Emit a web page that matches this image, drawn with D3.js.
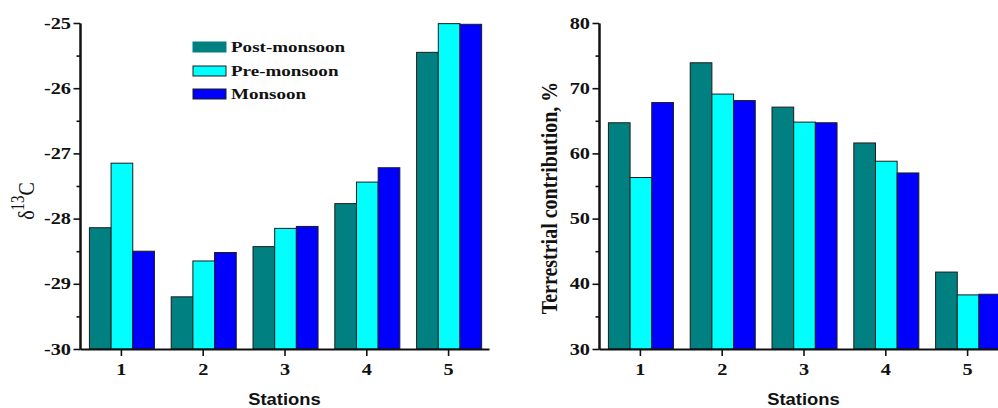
<!DOCTYPE html>
<html>
<head>
<meta charset="utf-8">
<script src="https://cdn.jsdelivr.net/npm/d3@7"></script>
<style>
  body { margin: 0; background: #fff; }
  svg { display: block; }
</style>
</head>
<body>
<div class="container"></div>
<script>
"use strict";

// data
var stations = [1, 2, 3, 4, 5];
var seriesNames = ["Post-monsoon", "Pre-monsoon", "Monsoon"];
var seriesColors = ["#008080", "#00ffff", "#0000ff"];

var d13cPost = [-28.14, -29.20, -28.43, -27.77, -25.45];
var d13cPre = [-27.15, -28.65, -28.15, -27.44, -25.01];
var d13cMon = [-28.50, -28.52, -28.12, -27.22, -25.02];

var terrPost = [64.7, 73.9, 67.1, 61.6, 41.8];
var terrPre = [56.3, 69.1, 64.8, 58.8, 38.3];
var terrMon = [67.8, 68.1, 64.7, 57.0, 38.4];

var d13cTicks = [-30, -29, -28, -27, -26, -25];
var d13cMinor = [-29.5, -28.5, -27.5, -26.5, -25.5];
var terrTicks = [30, 40, 50, 60, 70, 80];
var terrMinor = [35, 45, 55, 65, 75];

var W = 998, H = 408;
var yTop = 23, yBot = 349;
var serif = "'Liberation Serif', 'Times New Roman', serif";
var sans = "'Liberation Sans', Arial, sans-serif";
var sx = 1.27; // the original figure is stretched horizontally

var svg = d3.select(".container").append("svg").attr("width", W).attr("height", H);

//plain hyphen instead of the unicode minus
var fmt = function (d) { return String(d); };

function drawPanel(cfg) {
  var x = d3.scaleLinear().domain([0.5, 5.5]).range([cfg.left, cfg.left + 409]);
  var y = d3.scaleLinear().domain(cfg.domain).range([yBot, yTop]);
  var bw = 0.265, off = -0.385;
  var g = svg.append("g");

  //bars
  cfg.series.forEach(function (vals, j) {
    g.selectAll(null).data(vals).enter().append("rect")
      .attr("x", function (d, i) { return x(stations[i] + off + j * bw); })
      .attr("y", function (d) { return y(d); })
      .attr("width", x(bw) - x(0))
      .attr("height", function (d) { return yBot - y(d); })
      .attr("fill", seriesColors[j])
      .attr("stroke", "#1c1c1c")
      .attr("stroke-width", 1);
  });

  //x axis
  var xAxis = g.append("g").attr("transform", "translate(0," + yBot + ")")
    .call(d3.axisBottom(x).tickValues(stations).tickSize(7).tickSizeOuter(0).tickFormat(fmt));
  xAxis.selectAll("text").attr("y", 15);

  //y axis minor + major
  g.append("g").attr("transform", "translate(" + cfg.left + ",0)")
    .call(d3.axisLeft(y).tickValues(cfg.minor).tickSize(3.5).tickSizeOuter(0).tickFormat(""));
  var yAxis = g.append("g").attr("transform", "translate(" + cfg.left + ",0)")
    .call(d3.axisLeft(y).tickValues(cfg.ticks).tickSize(6.5).tickSizeOuter(0).tickFormat(fmt));
  yAxis.selectAll("text").attr("x", -9 / sx).attr("transform", "scale(" + sx + ",1)");
  xAxis.selectAll("text").attr("transform", "scale(" + sx + ",1)");

  g.selectAll(".domain").attr("stroke", "#111").attr("stroke-width", 2);
  g.selectAll(".tick line").attr("stroke", "#111").attr("stroke-width", 1.6);
  g.selectAll(".tick text").attr("font-family", serif).attr("font-weight", "bold")
    .attr("font-size", 16).attr("fill", "#111");

  //x label
  g.append("text").attr("transform", "translate(" + x(3) + ",405) scale(1.15,1)")
    .attr("text-anchor", "middle").attr("font-family", sans).attr("font-weight", "bold")
    .attr("font-size", 16).attr("fill", "#111").text("Stations");

  return { x: x, y: y, g: g };
}

var left = drawPanel({ left: 80, domain: [-30, -25], ticks: d13cTicks, minor: d13cMinor,
  series: [d13cPost, d13cPre, d13cMon] });
var right = drawPanel({ left: 599, domain: [30, 80], ticks: terrTicks, minor: terrMinor,
  series: [terrPost, terrPre, terrMon] });

//Y labels
var yl = svg.append("text").attr("transform", "translate(34,201) rotate(-90) scale(1,1.2)")
  .attr("text-anchor", "middle").attr("font-family", serif).attr("font-size", 20).attr("fill", "#111");
yl.append("tspan").text("δ");
yl.append("tspan").attr("font-size", 15).attr("dy", -8).text("13");
yl.append("tspan").attr("dy", 8).text("C");

svg.append("text").attr("transform", "translate(557,198) rotate(-90) scale(1,1.15)")
  .attr("text-anchor", "middle").attr("font-family", serif).attr("font-weight", "bold")
  .attr("font-size", 20).attr("fill", "#111").text("Terrestrial contribution, %");

//Legend
var legendY = [42, 66, 89];
var legend = svg.append("g");
seriesNames.forEach(function (name, j) {
  legend.append("rect").attr("x", 193).attr("y", legendY[j]).attr("width", 33).attr("height", 10)
    .attr("fill", seriesColors[j]).attr("stroke", j === 0 ? seriesColors[0] : "#1c1c1c").attr("stroke-width", 1);
  legend.append("text").attr("transform", "translate(231," + (legendY[j] + 10) + ") scale(" + sx + ",1)")
    .attr("font-family", serif).attr("font-weight", "bold").attr("font-size", 15).attr("fill", "#111")
    .text(name);
});
</script>
</body>
</html>
